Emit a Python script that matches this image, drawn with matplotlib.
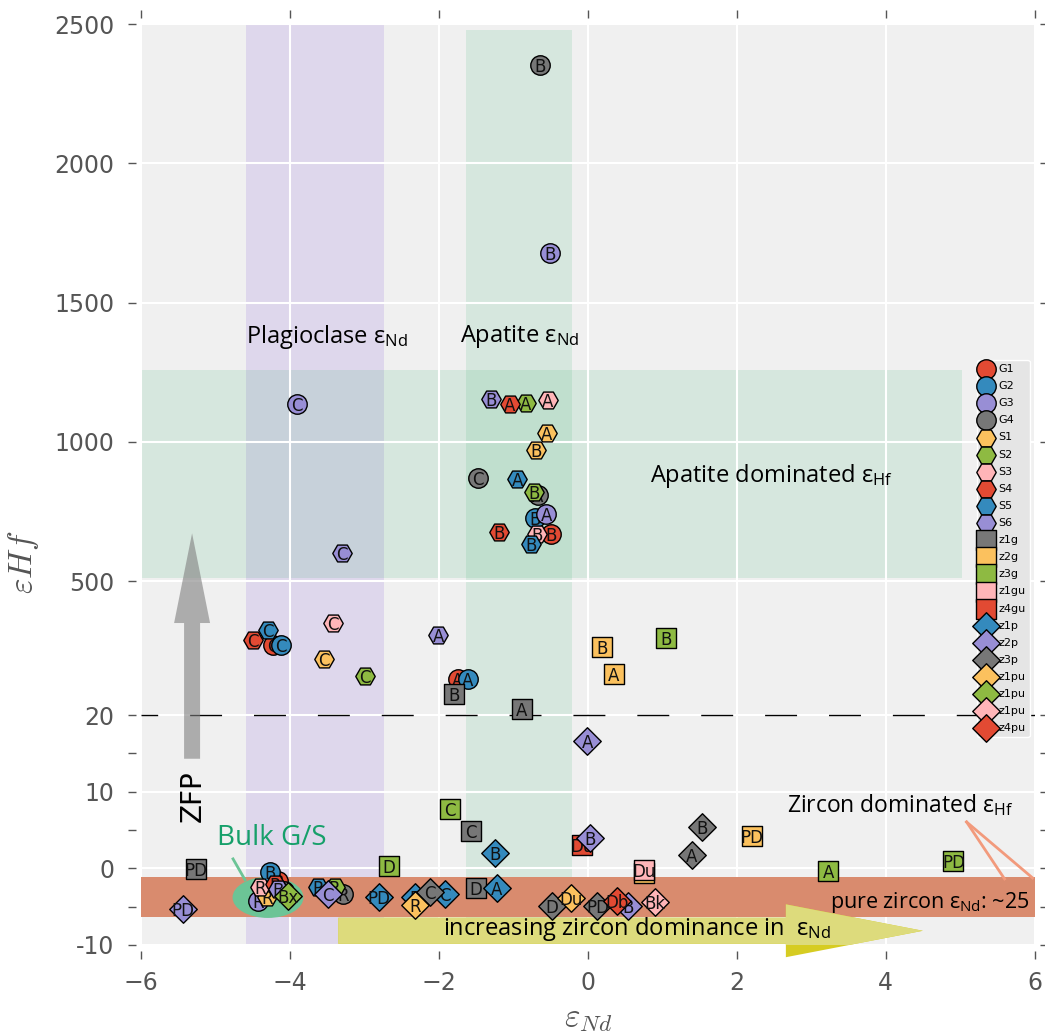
import numpy as np
import matplotlib
matplotlib.use("Agg")
import matplotlib.pyplot as plt
from matplotlib.patches import Ellipse, FancyArrow

plt.rcParams['mathtext.fontset'] = 'cm'

# palette
red, blue, purple, gray = '#E24A33', '#348ABD', '#988ED5', '#777777'
orange, green, pink = '#FBC15E', '#8EBA42', '#FFB5B8'

# --- bulk grain / separate data (eNd, eHf, sample id) ---
g1_nd = [-0.50, -4.23, -1.75, -4.16]
g1_hf = [670, 270, 149, -1.7]
g1_id = ['B', 'C', 'A', 'B']

g2_nd = [-0.71, -4.12, -1.61, -4.27]
g2_hf = [727, 270, 149, -0.5]
g2_id = ['B', 'C', 'A', 'B']

g3_nd = [-0.51, -3.91, -0.56, -4.43]
g3_hf = [1677, 1138, 741, -4.2]
g3_id = ['B', 'C', 'A', 'R']

g4_nd = [-0.64, -1.48, -0.67, -3.29, -4.08]
g4_hf = [2352, 870, 809, -3.4, -2.9]
g4_id = ['B', 'C', 'A', 'R', 'B']

s1_nd = [-0.55, -0.70, -3.54, -4.31]
s1_hf = [1031, 970, 220, -3.8]
s1_id = ['A', 'B', 'C', 'R']

s2_nd = [-0.83, -0.725, -2.99, -3.40]
s2_hf = [1141, 820, 159, -2.5]
s2_id = ['A', 'B', 'C', 'R']

s3_nd = [-0.54, -0.685, -3.42, -4.40]
s3_hf = [1152, 670, 349, -2.5]
s3_id = ['A', 'B', 'C', 'R']

s4_nd = [-1.05, -1.195, -4.50, -4.20]
s4_hf = [1138, 677, 288, -2.0]
s4_id = ['A', 'B', 'C', 'R']

s5_nd = [-0.95, -0.765, -4.30, -3.63]
s5_hf = [866, 634, 324, -2.5]
s5_id = ['A', 'B', 'C', 'P']

s6_nd = [-1.30, -3.30, -2.01, -4.16]
s6_hf = [1156, 602, 309, -2.7]
s6_id = ['B', 'C', 'A', 'B']

# --- zircon fractions ---
z1g_nd = [-1.80, -0.89, -1.57, -1.50, -5.26]
z1g_hf = [95, 41, 4.9, -2.6, -0.1]
z1g_id = ['B', 'A', 'C', 'D', 'PD']

z2g_nd = [0.19, 0.35, 2.21, 0.75]
z2g_hf = [266, 166, 4.2, -0.65]
z2g_id = ['B', 'A', 'PD', 'Du']

z3g_nd = [1.05, -1.85, -2.67, 3.23, 4.91]
z3g_hf = [295, 7.7, 0.26, -0.4, 1.0]
z3g_id = ['B', 'C', 'D', 'A', 'PD']

z1gu_nd = [0.75]
z1gu_hf = [-0.26]
z1gu_id = ['Du']

z4gu_nd = [-0.08]
z4gu_hf = [3.1]
z4gu_id = ['Du']

z1p_nd = [-1.25, -1.22, -1.92, -2.32, -2.80]
z1p_hf = [1.95, -2.6, -3.4, -3.8, -3.8]
z1p_id = ['B', 'A', 'C', 'R', 'PD']

z2p_nd = [-0.01, 0.03, -5.44, -3.49, 0.54]
z2p_hf = [16.6, 4.0, -5.3, -3.4, -4.9]
z2p_id = ['A', 'B', 'PD', 'C', 'B']

z3p_nd = [1.53, 1.40, -2.12, -0.48, 0.13]
z3p_hf = [5.45, 1.7, -3.1, -4.9, -4.9]
z3p_id = ['B', 'A', 'C', 'D', 'PD']

z1pu_o_nd = [-0.23, -2.32]
z1pu_o_hf = [-3.9, -4.8]
z1pu_o_id = ['Du', 'R']

z1pu_g_nd = [-4.02]
z1pu_g_hf = [-3.6]
z1pu_g_id = ['Bx']

z1pu_p_nd = [0.90]
z1pu_p_hf = [-4.4]
z1pu_p_id = ['Bk']

z4pu_nd = [0.39]
z4pu_hf = [-4.3]
z4pu_id = ['Db']

series = [
    ('G1', 'o', red, g1_nd, g1_hf, g1_id),
    ('G2', 'o', blue, g2_nd, g2_hf, g2_id),
    ('G3', 'o', purple, g3_nd, g3_hf, g3_id),
    ('G4', 'o', gray, g4_nd, g4_hf, g4_id),
    ('S1', 'H', orange, s1_nd, s1_hf, s1_id),
    ('S2', 'H', green, s2_nd, s2_hf, s2_id),
    ('S3', 'H', pink, s3_nd, s3_hf, s3_id),
    ('S4', 'H', red, s4_nd, s4_hf, s4_id),
    ('S5', 'H', blue, s5_nd, s5_hf, s5_id),
    ('S6', 'H', purple, s6_nd, s6_hf, s6_id),
    ('z1g', 's', gray, z1g_nd, z1g_hf, z1g_id),
    ('z2g', 's', orange, z2g_nd, z2g_hf, z2g_id),
    ('z3g', 's', green, z3g_nd, z3g_hf, z3g_id),
    ('z1gu', 's', pink, z1gu_nd, z1gu_hf, z1gu_id),
    ('z4gu', 's', red, z4gu_nd, z4gu_hf, z4gu_id),
    ('z1p', 'D', blue, z1p_nd, z1p_hf, z1p_id),
    ('z2p', 'D', purple, z2p_nd, z2p_hf, z2p_id),
    ('z3p', 'D', gray, z3p_nd, z3p_hf, z3p_id),
    ('z1pu', 'D', orange, z1pu_o_nd, z1pu_o_hf, z1pu_o_id),
    ('z1pu', 'D', green, z1pu_g_nd, z1pu_g_hf, z1pu_g_id),
    ('z1pu', 'D', pink, z1pu_p_nd, z1pu_p_hf, z1pu_p_id),
    ('z4pu', 'D', red, z4pu_nd, z4pu_hf, z4pu_id),
]

y_ticks = [-10, 0, 10, 20, 500, 1000, 1500, 2000, 2500]
y_minor = [-5, 5, 15]
x_ticks = [-6, -4, -2, 0, 2, 4, 6]
BREAK = 20
SQUEEZE = 27.5


# linear below the break, compressed above it
def fwd(y):
    y = np.asarray(y, dtype=float)
    return np.where(y <= BREAK, y, BREAK + (y - BREAK) / SQUEEZE)


def inv(v):
    v = np.asarray(v, dtype=float)
    return np.where(v <= BREAK, v, BREAK + (v - BREAK) * SQUEEZE)


fig = plt.figure(figsize=(10.45, 10.35), dpi=100)
ax = fig.add_axes([0.135, 0.087, 0.855, 0.8898])
ax.set_yscale('function', functions=(fwd, inv))
ax.set_xlim(-6, 6)
ax.set_ylim(-10, 2500)

ax.set_facecolor('#f0f0f0')
ax.set_axisbelow(True)
ax.grid(True, color='white', lw=1.5)
for sp in ax.spines.values():
    sp.set_visible(False)
    sp.set_position(('outward', 4))

ax.set_yticks(y_ticks, [str(t) for t in y_ticks])
ax.set_yticks(y_minor, minor=True)
ax.set_xticks(x_ticks)
ax.tick_params(which='both', direction='out', length=6, width=1,
               color='#555555', labelcolor='#555555', labelsize=17,
               top=True, right=True, pad=9)
ax.tick_params(which='minor', labelleft=False)

# mineral bands
ax.axvspan(-4.59, -2.74, color='mediumpurple', alpha=0.19, lw=0, zorder=0.2)
ax.fill_betweenx([-10, 2480], -1.64, -0.215, color='mediumseagreen',
                 alpha=0.14, lw=0, zorder=0.2)
ax.fill_between([-6, 5.03], 513, 1259, color='mediumseagreen',
                alpha=0.14, lw=0, zorder=0.2)
ax.fill_between([-6, 6], -6.36, -1.17, color='#d98b6e', lw=0, zorder=0.7)

# increasing zircon arrow
arr_kw = dict(x=-3.35, y=-8.15, dx=7.85, dy=0, width=3.4, head_width=6.9,
              head_length=1.84, length_includes_head=True, lw=0)
ax.add_patch(FancyArrow(**arr_kw, color='#d6cc22', clip_on=False, zorder=0.75))
ax.add_patch(FancyArrow(**arr_kw, color='#dddb7c', zorder=0.76))

ax.axhline(20, color='k', lw=1, linestyle=(11, (23, 23)), zorder=0.9)

# ZFP arrow
ax.add_patch(FancyArrow(-5.315, 14.3, 0, 658, width=0.215, head_width=0.483,
                        head_length=322, length_includes_head=True, lw=0,
                        color='#808080', alpha=0.6, zorder=0.9))
ax.text(-5.30, 9.45, 'ZFP', rotation=90, ha='center', va='center',
        fontsize=20)

# bulk G/S ellipse
ax.add_patch(Ellipse((-4.295, -3.8), 0.953, 5.35, color='#6cc496', lw=0, zorder=0.95))
ax.plot([-4.765, -4.604], [1.23, -1.5], color='#6cc496', lw=2, zorder=0.95)
ax.text(-4.25, 3.9, 'Bulk G/S', ha='center', va='center', fontsize=20,
        color='#16a06a', family='Open Sans')

ann = dict(family='Open Sans', va='center')
ax.text(-3.50, 1377, r'Plagioclase $\mathregular{ε_{Nd}}$', ha='center', fontsize=17, **ann)
ax.text(-0.91, 1377, r'Apatite $\mathregular{ε_{Nd}}$', ha='center', fontsize=17, **ann)
ax.text(0.832, 877, r'Apatite dominated $\mathregular{ε_{Hf}}$', ha='left', fontsize=17, **ann)
ax.text(2.67, 8.3, r'Zircon dominated $\mathregular{ε_{Hf}}$', ha='left', fontsize=16.5, **ann)
ax.text(5.93, -4.4, r'pure zircon $\mathregular{ε_{Nd}}$: ~25', ha='right', fontsize=15.5,
        zorder=1, **ann)
ax.text(-1.95, -7.9, r'increasing zircon dominance in  $\mathregular{ε_{Nd}}$',
        ha='left', fontsize=17, zorder=1, **ann)
ax.plot([5.087, 5.597], [6.05, -1.38], color='#f29a7c', lw=2, clip_on=False)
ax.plot([5.087, 5.973], [6.05, -1.25], color='#f29a7c', lw=2, clip_on=False)

for i, (name, mk, col, xs, ys, ids) in enumerate(series):
    z = 3 + 2 * i
    ax.scatter(xs, ys, s=196, marker=mk, c=col, edgecolors='k',
               linewidths=1, zorder=z, label=name)
    for xv, yv, t in zip(xs, ys, ids):
        ax.text(xv, yv, t, ha='center', va='center_baseline', fontsize=12,
                color='#111111', zorder=z + 0.5)

leg = ax.legend(loc='upper right', bbox_to_anchor=(0.9944, 0.635), fontsize=8,
                labelspacing=0.64, handlelength=1.0, handletextpad=0.6,
                borderpad=0.35, borderaxespad=0, facecolor='#e5e5e5',
                edgecolor='white', framealpha=1, scatterpoints=1)
leg.set_zorder(100)

ax.set_xlabel(r'$\varepsilon_{Nd}$', fontsize=24, color='#555555')
ax.set_ylabel(r'$\varepsilon Hf$', fontsize=24, color='#555555')
ax.yaxis.set_label_coords(-0.112, 0.416)

fig.savefig('out.png', dpi=100)
